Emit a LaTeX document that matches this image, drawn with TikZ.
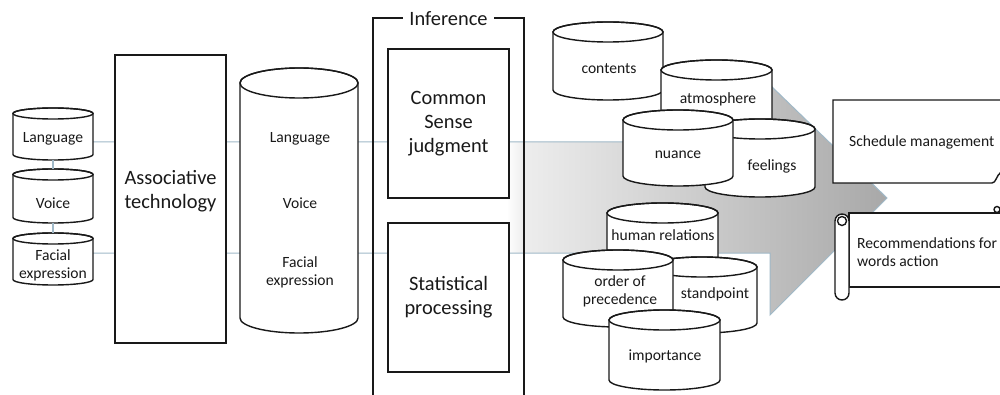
\documentclass[tikz,border=0pt]{standalone}
\usepackage{fontspec}
\setmainfont{Carlito}
\pgfdeclarehorizontalshading{arrowshade}{100bp}{color(0bp)=(white); color(52bp)=(white); color(53bp)=(gray!14); color(75bp)=(gray!68); color(100bp)=(gray!68)}
\definecolor{edgeblue}{RGB}{160,185,200}
\definecolor{ink}{RGB}{25,25,25}
\newcommand\cyl[9]{%
 \pgfmathsetmacro\cylRX{(#4-#2)/2}%
 \pgfmathsetmacro\cylCX{(#2+#4)/2}%
 \pgfmathsetmacro\cylCY{(#3+#5)/2}%
 \pgfmathsetmacro\cylYT{#3+#6}%
 \pgfmathsetmacro\cylYB{#5-#6}%
 \pgfmathsetmacro\cylW{#4-#2}%
 \pgfmathsetmacro\cylH{#5-#3}%
 \filldraw[cylstyle] (#2,\cylYT) -- (#2,\cylYB) arc[start angle=180,end angle=360,x radius=\cylRX pt,y radius=#6pt] -- (#4,\cylYT) arc[start angle=0,end angle=180,x radius=\cylRX pt,y radius=#6pt] -- cycle;
 \draw[cylstyle,fill=none] (\cylCX,\cylYT) ellipse[x radius=\cylRX pt,y radius=#6pt];
 \node[inner sep=0pt, minimum width=\cylW pt, minimum height=\cylH pt] (#1) at (\cylCX,\cylCY) {};
 \node[txt] (#1-text) at (#7,#8) {#9};
}
\begin{document}
\begin{tikzpicture}[x=1pt,y=-1pt,
  box/.style={draw=ink, line width=1.5pt, fill=white, inner sep=0pt},
  cylstyle/.style={draw=ink, line width=1.4pt, fill=white},
  arrowedge/.style={draw=edgeblue, line width=1pt},
  link/.style={draw=edgeblue, line width=1.2pt},
  doc/.style={draw=ink, line width=1.4pt, fill=white},
  frame/.style={draw=ink, line width=1.5pt},
  txt/.style={text=ink, font=\fontsize{15.6}{18}\selectfont, align=center, inner sep=0pt},
  bigtxt/.style={text=ink, font=\fontsize{20.4}{24}\selectfont, align=center, inner sep=0pt}]
\useasboundingbox (0,0) rectangle (1000,395);
\clip (0,0) rectangle (1000,395);
\fill[white] (0,0) rectangle (1000,395);

% big arrow behind everything
\shade[shading=arrowshade] (60,142) -- (770,142) -- (770,85) -- (887,198) -- (770,315) -- (770,253) -- (60,253) -- cycle;
\draw[arrowedge] (60,142) -- (770,142) -- (770,85) -- (887,198) -- (770,315) -- (770,253) -- (60,253);

% small input cylinders
\cyl{lang}{13}{108}{93}{160}{5.5}{53}{139}{Language}
\cyl{voice}{13}{169}{93}{223}{5.5}{53}{203}{Voice}
\cyl{face}{13}{233}{93}{285}{5.5}{53}{265}{Facial\\expression}
\draw[link] (lang.south) -- (voice.north);
\draw[link] (voice.south) -- (face.north);

% associative technology
\node[box, minimum width=111pt, minimum height=288pt] (assoc) at (170.5,199) {};
\node[bigtxt] (assoc-text) at (170.5,191.5) {Associative\\technology};

% big cylinder
\cyl{bigcyl}{240}{68}{358}{333}{15}{300}{139}{Language}
\node[txt] (bigvoice) at (300,203) {Voice};
\node[txt] (bigface) at (300,272.5) {Facial\\expression};

% inference frame
\node[bigtxt, inner xsep=6.5pt] (inf) at (448.5,19) {Inference};
\draw[frame] (inf.west |- 0,18) -- (373,18) -- (373,400);
\draw[frame] (inf.east |- 0,18) -- (524,18) -- (524,400);
\node[box, minimum width=121pt, minimum height=149pt, bigtxt, draw=ink] (csj) at (448.5,123.5) {Common\\Sense\\judgment};
\node[box, minimum width=121pt, minimum height=149pt, bigtxt, draw=ink] (stat) at (448.5,297.5) {Statistical\\processing};

% right cylinders
\cyl{contents}{553}{22}{663}{100}{10}{609}{69}{contents}
\cyl{atmos}{661}{60}{772}{138}{10}{718}{99}{atmosphere}
\cyl{feel}{705}{119}{815}{197}{10}{772}{166}{feelings}
\cyl{nuance}{623}{110}{733}{186}{10}{678}{155}{nuance}
\cyl{human}{607}{203}{718}{281}{10}{663}{235.5}{human relations}
\cyl{stand}{647}{257}{757}{333}{10}{715}{294}{standpoint}
\cyl{order}{563}{250}{673}{327}{10}{620}{291}{order of\\precedence}
\cyl{import}{609}{310}{720}{390}{10}{665}{356}{importance}

% output scrolls
\filldraw[doc] (1010,100) -- (833,100) -- (833,183) -- (992,183) .. controls (996,183) and (996,176) .. (1001,172);
\node[txt, anchor=west, align=left] (sched) at (849,142.5) {Schedule management};
\filldraw[doc] (849,213) -- (1010,213) -- (1010,287) -- (849,287) -- cycle;
\draw[doc] (997,209.5) circle[radius=3pt];
\filldraw[doc, rounded corners=7pt] (835,214) rectangle (849,300);
\draw[doc] (842,221) circle[radius=4.5pt];
\node[txt, anchor=west, align=left] (recom) at (857,252.5) {Recommendations for\\words action};
\end{tikzpicture}
\end{document}
